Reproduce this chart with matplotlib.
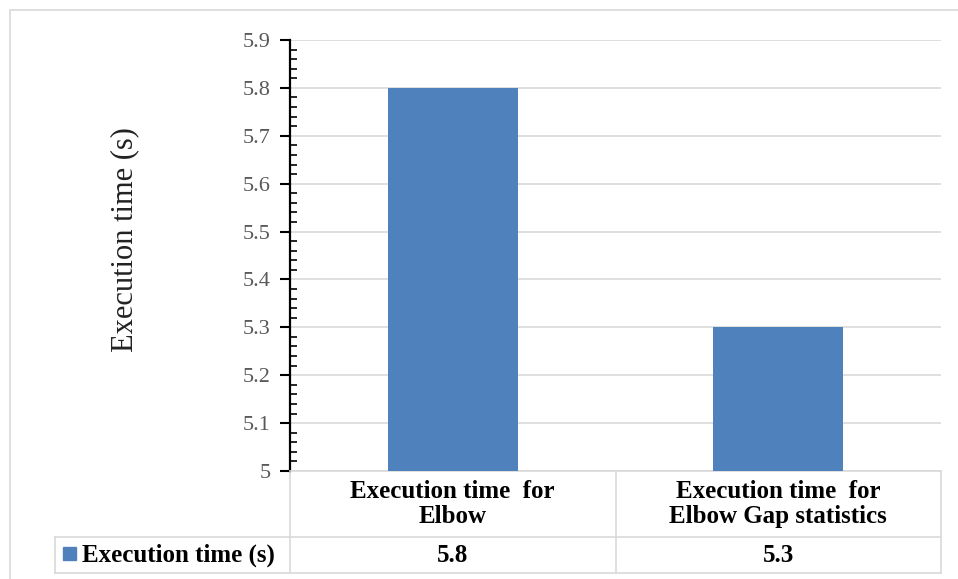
import matplotlib.pyplot as plt
from matplotlib.patches import Rectangle
from matplotlib.ticker import MultipleLocator

categories = ['Execution time  for\nElbow', 'Execution time  for\nElbow Gap statistics']
values = [5.8, 5.3]
value_labels = ['5.8', '5.3']
series_name = 'Execution time (s)'

W, H = 958, 579
bar_color = '#4F81BD'
line_grey = '#D9D9D9'
serif = ['Liberation Serif', 'DejaVu Serif']

fig = plt.figure(figsize=(W / 100, H / 100), dpi=100)
ax = fig.add_axes([290 / W, 1 - 471 / H, (941 - 290) / W, (471 - 40) / H])

x = list(range(len(categories)))
ax.bar(x, values, width=0.4, color=bar_color, zorder=3)
ax.set_xlim(-0.5, len(categories) - 0.5)
ax.set_ylim(5, 5.9)
ax.yaxis.set_major_locator(MultipleLocator(0.1))
ax.yaxis.set_minor_locator(MultipleLocator(0.02))
ax.set_yticklabels([f'{v:g}' for v in ax.get_yticks()])
ax.set_xticks([])
ax.grid(axis='y', color=line_grey, lw=1.2, zorder=0)

for s in ['top', 'right']:
    ax.spines[s].set_visible(False)
ax.spines['bottom'].set_color(line_grey)
ax.spines['bottom'].set_linewidth(1.2)
ax.spines['left'].set_linewidth(1.6)
ax.tick_params(axis='y', which='major', direction='out', length=7, width=1.5,
               labelsize=16, labelcolor='#595959', pad=7)
ax.tick_params(axis='y', which='minor', direction='in', length=5, width=1.2)
for lab in ax.get_yticklabels():
    lab.set_fontfamily(serif)

fig.text(125 / W, 1 - 240 / H, series_name, rotation=90, ha='center', va='center',
         fontsize=22, family=serif, color='#222222')

# data table under the axis
def ay(py):
    return (471 - py) / 431

def axx(px):
    return (px - 290) / 651

tab = dict(transform=ax.transAxes, clip_on=False, color=line_grey, lw=1.2)
ax.plot([axx(55), 1], [ay(537), ay(537)], **tab)
ax.plot([axx(55), 1], [ay(573), ay(573)], **tab)
ax.plot([axx(55), axx(55)], [ay(537), ay(573)], **tab)
for i in range(len(categories) + 1):
    xf = i / len(categories)
    ax.plot([xf, xf], [0, ay(573)], **tab)

xt = ax.get_xaxis_transform()
for xi, cat, vl in zip(x, categories, value_labels):
    ax.text(xi, ay(504), cat, transform=xt, ha='center', va='center',
            fontsize=18, fontweight='bold', family=serif, linespacing=1.15)
    ax.text(xi, ay(555), vl, transform=xt, ha='center', va='center',
            fontsize=18, fontweight='bold', family=serif)

ax.add_patch(Rectangle((axx(63), ay(560)), 13 / 651, 13 / 431, transform=ax.transAxes,
                       clip_on=False, color=bar_color))
ax.text(axx(82), ay(555), series_name, transform=ax.transAxes, ha='left', va='center',
        fontsize=18, fontweight='bold', family=serif)

# outer chart border
fig.patches.append(Rectangle((10 / W, -0.1), 1.2, 1.1 - 10 / H, transform=fig.transFigure,
                             fill=False, edgecolor=line_grey, lw=1.2))

fig.savefig('out.png', dpi=100)
